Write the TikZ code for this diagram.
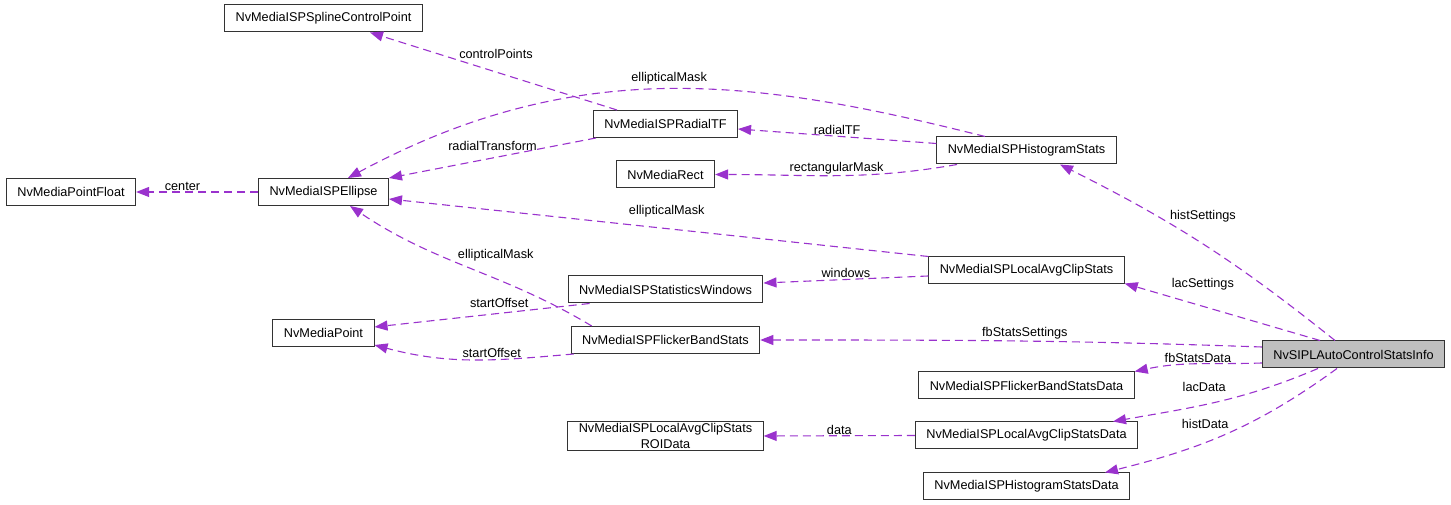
\documentclass[tikz,border=0pt]{standalone}
\usepackage{fontspec}
\setmainfont{Liberation Sans}
\usetikzlibrary{arrows.meta}
\definecolor{edgecol}{RGB}{154,50,205}
\definecolor{infofill}{RGB}{191,191,191}
\begin{document}
\begin{tikzpicture}[x=1pt,y=1pt,font=\fontsize{12.7}{15.5}\selectfont,
	>={Triangle[length=13pt,width=10pt]},
	cls/.style={draw=black!80,line width=1pt,fill=white,minimum height=27pt,inner xsep=11pt,inner ysep=2pt},
	assoc/.style={->,color=edgecol,line width=1.1pt,dash pattern=on 8pt off 5pt},
	lbl/.style={text=black,inner sep=1pt}]

	\useasboundingbox (0,0) rectangle (1451,505);

	\node[cls] (ellipse) at (323.5,313) {NvMediaISPEllipse};
	\node[cls] (spline) [above of=ellipse, node distance=173.5pt] {NvMediaISPSplineControlPoint};
	\node[cls] (pointfloat) [left of=ellipse, node distance=252.5pt] {NvMediaPointFloat};
	\node[cls] (point) [below of=ellipse, node distance=141pt] {NvMediaPoint};

	\node[cls] (radialtf) at (665.5,381) {NvMediaISPRadialTF};
	\node[cls] (rect) [below of=radialtf, node distance=50.5pt] {NvMediaRect};
	\node[cls] (statwin) at (665.5,215.5) {NvMediaISPStatisticsWindows};
	\node[cls] (fbstats) [below of=statwin, node distance=50.5pt] {NvMediaISPFlickerBandStats};
	\node[cls,align=center] (roidata) [below of=fbstats, node distance=96pt] {NvMediaISPLocalAvgClipStats\\ROIData};

	\node[cls] (hist) at (1026.5,354.5) {NvMediaISPHistogramStats};
	\node[cls] (lacstats) [below of=hist, node distance=120pt] {NvMediaISPLocalAvgClipStats};
	\node[cls] (fbdata) at (1026.5,119.5) {NvMediaISPFlickerBandStatsData};
	\node[cls] (lacdata) [below of=fbdata, node distance=50pt] {NvMediaISPLocalAvgClipStatsData};
	\node[cls] (histdata) [below of=lacdata, node distance=51pt] {NvMediaISPHistogramStatsData};

	\node[cls,fill=infofill] (info) at (1353.5,150.5) {NvSIPLAutoControlStatsInfo};

	\path[assoc] ([xshift=-48.5pt]radialtf.north) edge node[lbl,pos=.49,above=12pt] {controlPoints} ([xshift=46.5pt]spline.south);
	\draw[assoc] ([xshift=-41.5pt]hist.north) .. controls (760,425) and (580,452) .. ([xshift=24.5pt]ellipse.north) node[lbl,pos=.5,above=3pt] {ellipticalMask};
	\path[assoc] ([yshift=7pt]hist.west) edge node[lbl,above] {radialTF} ([yshift=-5pt]radialtf.east);
	\path[assoc] ([xshift=-69.5pt]hist.south) edge[out=190,in=0] node[lbl,above] {rectangularMask} (rect.east);
	\path[assoc] ([xshift=3pt]radialtf.south west) edge node[lbl,above=6pt] {radialTransform} (ellipse.north east);
	\path[assoc] (ellipse) edge node[lbl,above,pos=.62] {center} (pointfloat);
	\path[assoc] (lacstats.north west) edge node[lbl,above=10pt,pos=.485] {ellipticalMask} ([yshift=-7pt]ellipse.east);
	\path[assoc] ([xshift=21pt]fbstats.north west) edge[out=149,in=-34] node[lbl,pos=.5,anchor=south,xshift=26pt,yshift=5pt] {ellipticalMask} ([xshift=26.5pt]ellipse.south);
	\path[assoc] ([yshift=-5.5pt]lacstats.west) edge node[lbl,above] {windows} ([yshift=6.5pt]statwin.east);
	\path[assoc] ([xshift=22pt]statwin.south west) edge node[lbl,above=4pt,pos=.42] {startOffset} ([yshift=6pt]point.east);
	\path[assoc] ([xshift=3pt]fbstats.south west) edge[out=185,in=-15] node[lbl,above,pos=.4] {startOffset} ([yshift=2pt]point.south east);
	\path[assoc] (lacdata.west) edge node[lbl,above] {data} (roidata.east);

	% links out of the stats info struct
	\path[assoc] ([xshift=-18.5pt]info.north) edge[bend right=6] node[lbl,pos=.5,yshift=28pt] {histSettings} ([xshift=33.5pt]hist.south);
	\path[assoc] ([xshift=-33.5pt]info.north) edge node[lbl,pos=.6,yshift=22pt] {lacSettings} ([yshift=1pt]lacstats.south east);
	\path[assoc] ([yshift=7.5pt]info.west) edge[out=178,in=0] node[lbl,above,pos=.47] {fbStatsSettings} (fbstats.east);
	\path[assoc] ([yshift=-8.5pt]info.west) edge[out=182,in=12] node[lbl,above,pos=.5] {fbStatsData} (fbdata.north east);
	\path[assoc] ([xshift=-35.5pt]info.south) edge[out=203,in=10] node[lbl,above=12pt,pos=.57] {lacData} ([xshift=86.5pt]lacdata.north);
	\path[assoc] ([xshift=-16.5pt]info.south) edge[out=216,in=14] node[lbl,above=12pt,pos=.6] {histData} ([xshift=78.5pt]histdata.north);

\end{tikzpicture}
\end{document}
